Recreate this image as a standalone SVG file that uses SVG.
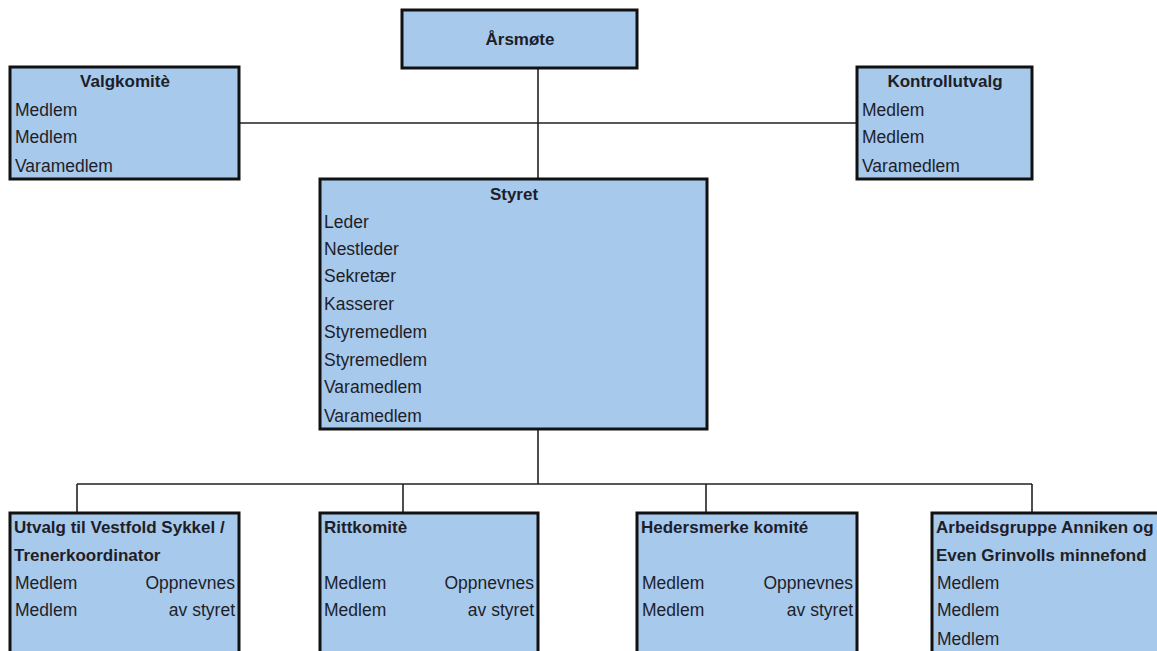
<svg xmlns="http://www.w3.org/2000/svg" width="1157" height="651" viewBox="0 0 1157 651">
<style>
.box{fill:#A7C9EC;stroke:#111;stroke-width:3}
.t{font-family:"Liberation Sans",Arial,sans-serif;font-size:17.5px;fill:#1e1e28}
.b{font-weight:bold;font-size:17px}
.c{text-anchor:middle}
.r{text-anchor:end}
.ln{stroke:#222;stroke-width:1.6;fill:none}
</style>
<rect width="1157" height="651" fill="#fff"/>
<g id="connectors">
<path class="ln" d="M538 68V179M239 123H856M538 428V484M77 484H1032M77 484V513M403 484V513M706 484V513M1032 484V513"/>
</g>
<g id="arsmote">
<rect class="box" x="402" y="10" width="235" height="58"/>
<text class="t b c" x="520" y="45">Årsmøte</text>
</g>
<g id="valgkomite">
<rect class="box" x="10" y="67" width="229" height="112"/>
<text class="t b c" x="125" y="87">Valgkomitè</text>
<text class="t" x="15" y="116">Medlem</text>
<text class="t" x="15" y="143">Medlem</text>
<text class="t" x="15" y="172">Varamedlem</text>
</g>
<g id="kontrollutvalg">
<rect class="box" x="857" y="67" width="175" height="112"/>
<text class="t b c" x="945" y="87">Kontrollutvalg</text>
<text class="t" x="862" y="116">Medlem</text>
<text class="t" x="862" y="143">Medlem</text>
<text class="t" x="862" y="172">Varamedlem</text>
</g>
<g id="styret">
<rect class="box" x="320" y="179" width="387" height="250"/>
<text class="t b c" x="514" y="200">Styret</text>
<text class="t" x="324" y="228">Leder</text>
<text class="t" x="324" y="255">Nestleder</text>
<text class="t" x="324" y="282">Sekretær</text>
<text class="t" x="324" y="310">Kasserer</text>
<text class="t" x="324" y="338">Styremedlem</text>
<text class="t" x="324" y="366">Styremedlem</text>
<text class="t" x="324" y="393">Varamedlem</text>
<text class="t" x="324" y="422">Varamedlem</text>
</g>
<g id="utvalg">
<rect class="box" x="10" y="513" width="229" height="150"/>
<text class="t b" x="14" y="533">Utvalg til Vestfold Sykkel /</text>
<text class="t b" x="14" y="561">Trenerkoordinator</text>
<text class="t" x="15" y="589">Medlem</text>
<text class="t" x="15" y="616">Medlem</text>
<text class="t r" x="235" y="589">Oppnevnes</text>
<text class="t r" x="235" y="616">av styret</text>
</g>
<g id="rittkomite">
<rect class="box" x="320" y="513" width="218" height="150"/>
<text class="t b" x="324" y="533">Rittkomitè</text>
<text class="t" x="324" y="589">Medlem</text>
<text class="t" x="324" y="616">Medlem</text>
<text class="t r" x="534" y="589">Oppnevnes</text>
<text class="t r" x="534" y="616">av styret</text>
</g>
<g id="hedersmerke">
<rect class="box" x="637" y="513" width="220" height="150"/>
<text class="t b" x="641" y="533">Hedersmerke komité</text>
<text class="t" x="642" y="589">Medlem</text>
<text class="t" x="642" y="616">Medlem</text>
<text class="t r" x="853" y="589">Oppnevnes</text>
<text class="t r" x="853" y="616">av styret</text>
</g>
<g id="arbeidsgruppe">
<rect class="box" x="932" y="513" width="240" height="150"/>
<text class="t b" x="936" y="533">Arbeidsgruppe Anniken og</text>
<text class="t b" x="936" y="561">Even Grinvolls minnefond</text>
<text class="t" x="937" y="589">Medlem</text>
<text class="t" x="937" y="616">Medlem</text>
<text class="t" x="937" y="645">Medlem</text>
</g>
</svg>
